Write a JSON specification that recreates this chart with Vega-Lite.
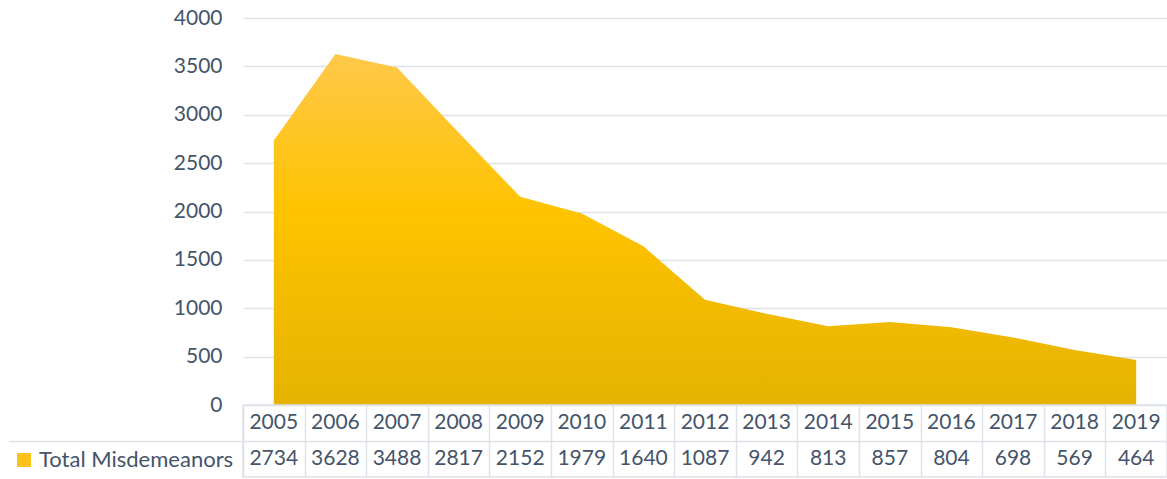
{
  "$schema": "https://vega.github.io/schema/vega-lite/v6.json",
  "padding": {"left": 7, "top": 7, "right": 0, "bottom": 0},
  "background": "white",
  "bounds": "flush",
  "spacing": 0,
  "config": {
    "font": "Lato",
    "text": {"font": "Lato", "fontSize": 21, "color": "#44546a"},
    "axis": {"labelFont": "Lato", "labelFontSize": 21, "labelColor": "#44546a"}
  },
  "data": {
    "values": [
      {"year": "2005", "value": 2734},
      {"year": "2006", "value": 3628},
      {"year": "2007", "value": 3488},
      {"year": "2008", "value": 2817},
      {"year": "2009", "value": 2152},
      {"year": "2010", "value": 1979},
      {"year": "2011", "value": 1640},
      {"year": "2012", "value": 1087},
      {"year": "2013", "value": 942},
      {"year": "2014", "value": 813},
      {"year": "2015", "value": 857},
      {"year": "2016", "value": 804},
      {"year": "2017", "value": 698},
      {"year": "2018", "value": 569},
      {"year": "2019", "value": 464}
    ]
  },
  "vconcat": [
    {
      "width": 924,
      "height": 387,
      "view": {"stroke": null},
      "mark": {
        "type": "area",
        "color": {
          "gradient": "linear",
          "x1": 0, "y1": 0, "x2": 0, "y2": 1,
          "stops": [
            {"offset": 0, "color": "#ffc84a"},
            {"offset": 0.45, "color": "#ffc300"},
            {"offset": 1, "color": "#e5b300"}
          ]
        }
      },
      "encoding": {
        "x": {
          "field": "year",
          "type": "ordinal",
          "scale": {"type": "point", "padding": 0.5},
          "axis": null
        },
        "y": {
          "field": "value",
          "type": "quantitative",
          "scale": {"domain": [0, 4000], "nice": false},
          "axis": {
            "title": null,
            "values": [0, 500, 1000, 1500, 2000, 2500, 3000, 3500, 4000],
            "format": "d",
            "domain": false,
            "ticks": false,
            "labelPadding": 21,
            "grid": true,
            "gridColor": "#dde2e8",
            "gridWidth": 1.5
          }
        }
      }
    },
    {
      "width": 924,
      "height": 72,
      "view": {"stroke": "#dde2e8", "strokeWidth": 1.5},
      "encoding": {
        "x": {
          "field": "year",
          "type": "ordinal",
          "scale": {"type": "band", "paddingInner": 0, "paddingOuter": 0},
          "axis": {
            "title": null,
            "labels": false,
            "ticks": false,
            "domain": false,
            "grid": true,
            "tickBand": "extent",
            "gridColor": "#dde2e8",
            "gridWidth": 1.5
          }
        }
      },
      "layer": [
        {
          "mark": {"type": "text", "baseline": "middle", "align": "center"},
          "encoding": {
            "y": {
              "datum": "Years",
              "type": "nominal",
              "scale": {"domain": ["Years", "Total"], "type": "band", "paddingInner": 0, "paddingOuter": 0},
              "axis": {
                "title": null,
                "values": ["Total"],
                "bandPosition": 0,
                "labels": false,
                "domain": false,
                "grid": true,
                "gridColor": "#dde2e8",
                "gridWidth": 1.5,
                "ticks": true,
                "tickSize": 234,
                "tickWidth": 1.5,
                "tickColor": "#dde2e8"
              }
            },
            "text": {"field": "year"}
          }
        },
        {
          "mark": {"type": "text", "baseline": "middle", "align": "center"},
          "encoding": {
            "y": {"datum": "Total", "type": "nominal"},
            "text": {"field": "value", "type": "quantitative", "format": "d"}
          }
        },
        {
          "mark": {"type": "square", "opacity": 0},
          "encoding": {
            "y": {"datum": "Total", "type": "nominal"},
            "color": {
              "datum": "Total Misdemeanors",
              "type": "nominal",
              "scale": {"range": ["#fcc21a"]},
              "legend": {
                "title": null,
                "orient": "none",
                "legendX": -230,
                "legendY": 431,
                "padding": 0,
                "symbolType": "square",
                "symbolSize": 196,
                "symbolOpacity": 1,
                "symbolStrokeWidth": 0,
                "labelFont": "Lato",
                "labelFontSize": 22,
                "labelColor": "#44546a",
                "labelOffset": 4,
                "labelLimit": 0
              }
            }
          }
        }
      ]
    }
  ]
}
